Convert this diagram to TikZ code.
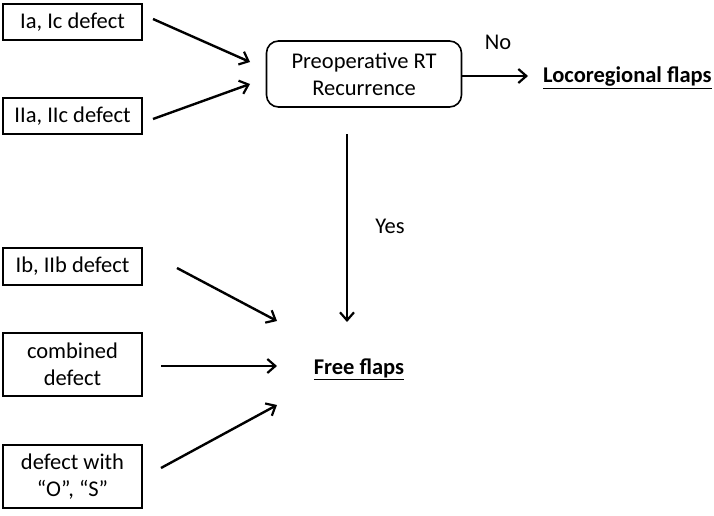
\documentclass[tikz,border=0pt]{standalone}
\usepackage{fontspec}
\setmainfont{Carlito}
\usetikzlibrary{arrows.meta}
\begin{document}
\begin{tikzpicture}[x=1pt,y=-1pt,
  txt/.style={font=\fontsize{22.5}{27}\selectfont, align=center},
  dbox/.style={txt, draw, line width=1.6pt, minimum width=139pt, inner sep=0pt},
  conn/.style={line width=2.4pt, -{Straight Barb[length=8pt,width=14pt,line width=2.2pt]}},
  res/.style={font=\fontsize{22.5}{27}\selectfont\bfseries, inner sep=0pt}]
\useasboundingbox (0,0) rectangle (714,516);
\node[dbox, minimum height=36pt] (b1) at (72.5,22) {Ia, Ic defect};
\node[dbox, minimum height=36pt] (b2) at (72.5,116) {IIa, IIc defect};
\node[dbox, minimum height=37pt] (b3) at (72.5,266.5) {Ib, IIb defect};
\node[dbox, minimum height=63pt] (b4) at (72.5,364.5) {combined\\defect};
\node[dbox, minimum height=63pt] (b5) at (72.5,476.5) {defect with\\“O”, “S”};
\node[txt, draw, line width=1.6pt, rounded corners=12pt, minimum width=195pt, minimum height=66pt, inner sep=0pt] (rt) at (364,74) {Preoperative RT\\Recurrence};
\node[res, anchor=base west] (loco) at (543,83) {\underline{Locoregional flaps}};
\node[res, anchor=base] (free) at (359,374) {\underline{Free flaps}};
\node[txt] (no) at (498,42) {No};
\node[txt] (yes) at (390,226) {Yes};
\coordinate (s1) at (153,19); \coordinate (t1) at (250,62);
\coordinate (s2) at (153,119); \coordinate (t2) at (250,84);
\coordinate (s3) at (177,268); \coordinate (t3) at (277,321);
\coordinate (s4) at (161,366); \coordinate (t4) at (277,366);
\coordinate (s5) at (161,468); \coordinate (t5) at (277,405);
\coordinate (tv) at (347,322);
\coordinate (tn) at (528,76);
\draw[conn] (s1) -- (t1);
\draw[conn] (s2) -- (t2);
\draw[conn] (s3) -- (t3);
\draw[conn] (s4) -- (t4);
\draw[conn] (s5) -- (t5);
\draw[conn] (rt.east |- 0,76) -- (tn);
\draw[conn] (347,134) -- (tv);
\end{tikzpicture}
\end{document}
